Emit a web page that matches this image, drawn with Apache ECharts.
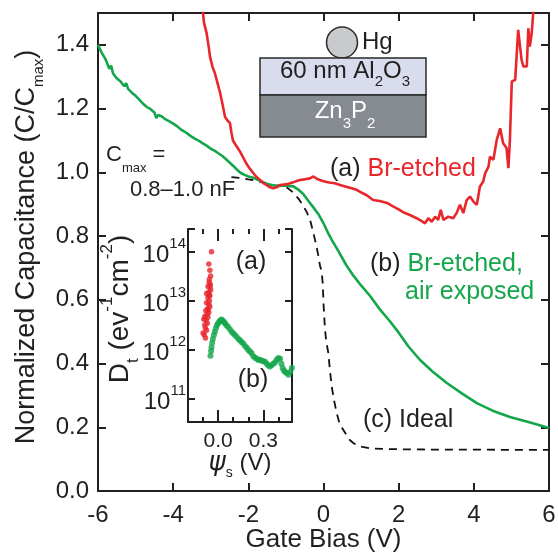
<!DOCTYPE html>
<html>
<head>
<meta charset="utf-8">
<title>C-V of Hg/Al2O3/Zn3P2</title>
<script src="https://cdn.jsdelivr.net/npm/echarts@6/dist/echarts.min.js"></script>
<style>
  html, body { margin: 0; padding: 0; background: #fff; }
  #chart { width: 558px; height: 554px; }
</style>
</head>
<body>
<div id="chart"></div>
<script>
// (a) Br-etched: [gate bias (V), C/Cmax]
const brEtched = [
  [-3.26, 1.56], [-3.18, 1.47], [-3.11, 1.437], [-3.05, 1.39], [-3.02, 1.363], [-2.95, 1.33],
  [-2.89, 1.311], [-2.82, 1.28], [-2.75, 1.249], [-2.68, 1.21], [-2.62, 1.174], [-2.55, 1.162],
  [-2.49, 1.155], [-2.45, 1.125], [-2.41, 1.10], [-2.33, 1.085], [-2.22, 1.065], [-2.13, 1.045],
  [-2.04, 1.025], [-1.95, 1.01], [-1.87, 0.998], [-1.78, 0.985], [-1.69, 0.976], [-1.6, 0.966],
  [-1.51, 0.96], [-1.42, 0.953], [-1.34, 0.95], [-1.25, 0.953], [-1.16, 0.96], [-1.05, 0.962],
  [-0.95, 0.963], [-0.89, 0.966], [-0.78, 0.97], [-0.63, 0.976], [-0.5, 0.978], [-0.36, 0.981],
  [-0.27, 0.987], [-0.15, 0.978], [0.0, 0.972], [0.15, 0.968], [0.3, 0.966], [0.44, 0.96],
  [0.6, 0.955], [0.75, 0.95], [0.88, 0.945], [1.0, 0.937], [1.15, 0.928], [1.32, 0.913],
  [1.5, 0.91], [1.69, 0.904], [1.85, 0.893], [2.0, 0.884], [2.15, 0.873], [2.3, 0.866],
  [2.48, 0.856], [2.6, 0.848], [2.7, 0.84], [2.79, 0.856], [2.88, 0.845], [2.97, 0.861],
  [3.05, 0.851], [3.12, 0.882], [3.19, 0.851], [3.32, 0.861], [3.45, 0.856], [3.54, 0.872],
  [3.63, 0.898], [3.72, 0.872], [3.81, 0.913], [3.9, 0.924], [3.99, 0.908], [4.08, 0.898],
  [4.16, 0.955], [4.25, 0.971], [4.3, 0.997], [4.39, 1.018], [4.43, 1.049], [4.52, 1.039],
  [4.61, 1.102], [4.7, 1.138], [4.78, 1.091], [4.87, 1.076], [4.92, 1.013], [4.96, 1.102],
  [5.01, 1.285], [5.1, 1.29], [5.14, 1.295], [5.18, 1.447], [5.27, 1.353], [5.32, 1.332],
  [5.41, 1.332], [5.45, 1.452], [5.49, 1.395], [5.54, 1.437], [5.58, 1.5], [5.62, 1.58]
];
// (b) Br-etched, air exposed
const airExposed = [
  [-6.0, 1.40], [-5.9, 1.375], [-5.8, 1.355], [-5.76, 1.343], [-5.7, 1.325], [-5.65, 1.335],
  [-5.6, 1.31], [-5.5, 1.295], [-5.4, 1.285], [-5.3, 1.27], [-5.25, 1.28], [-5.2, 1.262],
  [-5.1, 1.25], [-5.0, 1.24], [-4.9, 1.228], [-4.8, 1.215], [-4.7, 1.205], [-4.6, 1.198],
  [-4.5, 1.188], [-4.45, 1.17], [-4.4, 1.18], [-4.3, 1.175], [-4.2, 1.166], [-4.1, 1.16],
  [-4.0, 1.153], [-3.9, 1.145], [-3.8, 1.135], [-3.7, 1.128], [-3.6, 1.12], [-3.5, 1.111],
  [-3.4, 1.104], [-3.3, 1.098], [-3.2, 1.09], [-3.1, 1.083], [-3.0, 1.074], [-2.9, 1.068],
  [-2.8, 1.06], [-2.7, 1.052], [-2.6, 1.042], [-2.5, 1.031], [-2.4, 1.02], [-2.3, 1.008],
  [-2.2, 0.998], [-2.1, 0.992], [-2.0, 0.987], [-1.87, 0.983], [-1.7, 0.974], [-1.51, 0.964],
  [-1.3, 0.958], [-1.16, 0.959], [-1.0, 0.958], [-0.8, 0.956], [-0.65, 0.944], [-0.54, 0.932],
  [-0.4, 0.91], [-0.27, 0.89], [-0.12, 0.866], [0.0, 0.84], [0.1, 0.815], [0.22, 0.788],
  [0.4, 0.752], [0.6, 0.71], [0.8, 0.675], [1.0, 0.645], [1.24, 0.612], [1.5, 0.57],
  [1.75, 0.535], [1.95, 0.505], [2.25, 0.455], [2.57, 0.411], [2.9, 0.375], [3.28, 0.339],
  [3.7, 0.305], [4.08, 0.276], [4.5, 0.252], [4.96, 0.232], [5.5, 0.215], [6.0, 0.198]
];
// (c) Ideal
const ideal = [
  [-2.45, 0.985], [-2.2, 0.982], [-2.0, 0.978], [-1.78, 0.974], [-1.5, 0.963], [-1.2, 0.957],
  [-0.98, 0.953], [-0.8, 0.936], [-0.65, 0.915], [-0.54, 0.895], [-0.45, 0.876], [-0.36, 0.852],
  [-0.27, 0.81], [-0.2, 0.775], [-0.14, 0.74], [-0.09, 0.705], [-0.05, 0.69], [-0.02, 0.65],
  [0.0, 0.59], [0.04, 0.505], [0.08, 0.465], [0.13, 0.432], [0.17, 0.38], [0.22, 0.327],
  [0.28, 0.285], [0.35, 0.245], [0.42, 0.215], [0.5, 0.197], [0.6, 0.178], [0.7, 0.16],
  [0.8, 0.15], [0.97, 0.14], [1.24, 0.134], [1.6, 0.132], [2.0, 0.131], [3.0, 0.13],
  [4.0, 0.13], [5.0, 0.129], [6.0, 0.129]
];
// inset: [surface potential psi_s (V), Dt (eV^-1 cm^-2)]
const dtBrEtched = [
  [-0.044, 1.0e14], [-0.062, 5.6e13], [-0.055, 4.2e13], [-0.05, 3.2e13], [-0.058, 2.75e13],
  [-0.06, 2.4e13], [-0.052, 2.15e13], [-0.067, 1.95e13], [-0.05, 1.66e13], [-0.062, 1.51e13],
  [-0.077, 1.41e13], [-0.055, 1.26e13], [-0.068, 1.15e13], [-0.058, 1.0e13], [-0.077, 9.1e12],
  [-0.062, 8.5e12], [-0.055, 7.6e12], [-0.07, 6.9e12], [-0.082, 6.3e12], [-0.062, 5.8e12],
  [-0.075, 5.2e12], [-0.089, 4.8e12], [-0.068, 4.6e12], [-0.095, 4.2e12], [-0.08, 4.0e12],
  [-0.072, 3.5e12], [-0.089, 3.2e12], [-0.085, 2.8e12], [-0.1, 2.2e12], [-0.092, 2.0e12],
  [-0.084, 1.74e12], [-0.077, 2.5e12], [-0.066, 6.6e12], [-0.06, 1.32e13], [-0.053, 1.9e13]
];
const dtAirExposed = [
  [-0.051, 7.6e11], [-0.047, 9.5e11], [-0.044, 1.12e12], [-0.04, 1.38e12], [-0.035, 1.66e12],
  [-0.028, 2.0e12], [-0.022, 2.34e12], [-0.015, 2.75e12], [-0.008, 3.16e12], [0.0, 3.47e12],
  [0.008, 3.8e12], [0.015, 3.98e12], [0.022, 4.17e12], [0.03, 3.98e12], [0.038, 3.72e12],
  [0.045, 3.47e12], [0.055, 3.16e12], [0.065, 2.95e12], [0.078, 2.63e12], [0.09, 2.34e12],
  [0.1, 2.19e12], [0.111, 2.0e12], [0.122, 1.86e12], [0.135, 1.66e12], [0.145, 1.58e12],
  [0.155, 1.45e12], [0.167, 1.35e12], [0.178, 1.2e12], [0.19, 1.1e12], [0.2, 1.0e12],
  [0.211, 9.3e11], [0.222, 8.5e11], [0.233, 7.4e11], [0.245, 6.9e11], [0.256, 6.6e11],
  [0.267, 6.2e11], [0.278, 6.3e11], [0.29, 6.0e11], [0.3, 5.9e11], [0.311, 5.75e11],
  [0.322, 5.25e11], [0.333, 4.8e11], [0.344, 4.6e11], [0.355, 4.9e11], [0.367, 5.25e11],
  [0.378, 5.6e11], [0.389, 6.3e11], [0.4, 6.8e11], [0.411, 6.6e11], [0.42, 5.25e11],
  [0.428, 4.3e11], [0.436, 3.8e11], [0.445, 3.55e11], [0.455, 3.4e11], [0.467, 3.1e11],
  [0.478, 3.55e11], [0.489, 4.3e11]
];
const psiMinorTicks = [-0.1, 0, 0.1, 0.2, 0.3, 0.4];
const psiMajorTicks = [0, 0.3];

const FONT = 'Liberation Sans, Arial, Helvetica, sans-serif';
const INK = '#231f20';
const RED = '#e8262b';
const GREEN = '#14a64b';

const axisLine = { onZero: false, lineStyle: { color: INK, width: 2 } };
const tick = (len, extra) => Object.assign({ inside: true, length: len, lineStyle: { color: INK, width: 2 } }, extra || {});

function psiAxis(pos, len, vals, labels) {
  return {
    gridIndex: 1, type: 'value', min: -0.2, max: 0.49, position: pos, z: 6,
    axisLine: labels ? axisLine : { show: false },
    axisTick: tick(len, { customValues: vals }),
    axisLabel: labels ? {
      customValues: psiMajorTicks, formatter: v => v.toFixed(1),
      color: INK, fontSize: 21, fontFamily: FONT, margin: 9
    } : { show: false },
    splitLine: { show: false }
  };
}

const chart = echarts.init(document.getElementById('chart'));

chart.setOption({
  animation: false,
  backgroundColor: '#fff',
  grid: [
    { left: 98, top: 13, width: 451, height: 478, outerBoundsMode: 'none' },
    { left: 188, top: 229, width: 104, height: 193, outerBoundsMode: 'none',
      show: true, backgroundColor: '#fff', borderWidth: 0, z: 5 }
  ],
  xAxis: [
    {
      gridIndex: 0, type: 'value', min: -6, max: 6, interval: 2, position: 'bottom',
      axisLine: axisLine, axisTick: tick(8),
      axisLabel: { color: INK, fontSize: 24, fontFamily: FONT, margin: 12 },
      splitLine: { show: false },
      name: 'Gate Bias (V)', nameLocation: 'middle', nameGap: 36, nameMoveOverlap: false,
      nameTextStyle: { color: INK, fontSize: 26, fontFamily: FONT }
    },
    {
      gridIndex: 0, type: 'value', min: -6, max: 6, interval: 2, position: 'top',
      axisLine: axisLine, axisTick: tick(8), axisLabel: { show: false }, splitLine: { show: false }
    },
    Object.assign(psiAxis('bottom', 5, psiMinorTicks, true), {
      name: '{p|ψ}{s|s}{b| (V)}', nameLocation: 'middle', nameGap: 24, nameMoveOverlap: false,
      nameTextStyle: {
        rich: {
          p: { fontSize: 26, fontStyle: 'italic', fontFamily: 'DejaVu Sans, ' + FONT, color: INK, lineHeight: 26 },
          s: { fontSize: 14, fontFamily: FONT, color: INK, verticalAlign: 'bottom', lineHeight: 34 },
          b: { fontSize: 24, fontFamily: FONT, color: INK, lineHeight: 26 }
        }
      }
    }),
    psiAxis('bottom', 12, psiMajorTicks, false),
    psiAxis('top', 5, psiMinorTicks, false),
    psiAxis('top', 12, psiMajorTicks, false)
  ],
  yAxis: [
    {
      gridIndex: 0, type: 'value', min: 0, max: 1.5, interval: 0.2, position: 'left',
      axisLine: axisLine, axisTick: tick(8),
      axisLabel: {
        color: INK, fontSize: 24, fontFamily: FONT, margin: 9,
        formatter: v => (v > 1.45 ? '' : v.toFixed(1))
      },
      splitLine: { show: false },
      name: '{n|Normalized Capacitance (C/C}{s|max}{n|)}', nameLocation: 'middle', nameGap: 52,
      nameMoveOverlap: false,
      nameTextStyle: {
        padding: [0, 0, 0, 10],
        rich: {
          n: { fontSize: 27, fontFamily: FONT, color: INK, verticalAlign: 'top', lineHeight: 27 },
          s: { fontSize: 15, fontFamily: FONT, color: INK, verticalAlign: 'bottom', lineHeight: 33 }
        }
      }
    },
    {
      gridIndex: 0, type: 'value', min: 0, max: 1.5, interval: 0.2, position: 'right',
      axisLine: axisLine, axisTick: tick(8), axisLabel: { show: false }, splitLine: { show: false }
    },
    {
      gridIndex: 1, type: 'log', logBase: 10, min: 3.4e10, max: 2.9e14, position: 'left', z: 6,
      axisLine: axisLine, axisTick: tick(7),
      axisLabel: {
        margin: 2,
        formatter: v => {
          const e = Math.log10(v);
          return Math.abs(e - Math.round(e)) < 0.01 ? '{b|10}{p|' + Math.round(e) + '}' : '';
        },
        rich: {
          b: { fontSize: 24, fontFamily: FONT, color: INK, verticalAlign: 'bottom', lineHeight: 24 },
          p: { fontSize: 15, fontFamily: FONT, color: INK, verticalAlign: 'top', lineHeight: 31 }
        }
      },
      splitLine: { show: false },
      name: '{b|D}{s|t}{b| (ev}{p|-1}{b|cm}{p|-2}{b|)}', nameLocation: 'middle', nameGap: 46,
      nameMoveOverlap: false,
      nameTextStyle: {
        padding: [0, 0, 0, 33],
        rich: {
          b: { fontSize: 28, fontFamily: FONT, color: INK, lineHeight: 28 },
          s: { fontSize: 17, fontFamily: FONT, color: INK, verticalAlign: 'bottom', lineHeight: 43 },
          p: { fontSize: 17, fontFamily: FONT, color: INK, verticalAlign: 'top', lineHeight: 43 }
        }
      }
    },
    {
      gridIndex: 1, type: 'log', logBase: 10, min: 3.4e10, max: 2.9e14, position: 'right', z: 6,
      axisLine: axisLine, axisTick: tick(7), axisLabel: { show: false }, splitLine: { show: false }
    }
  ],
  series: [
    {
      name: '(c) Ideal', type: 'line', xAxisIndex: 0, yAxisIndex: 0, data: ideal,
      showSymbol: false, z: 2,
      lineStyle: { color: '#111', width: 1.8, type: [8, 6] }
    },
    {
      name: '(b) Br-etched, air exposed', type: 'line', xAxisIndex: 0, yAxisIndex: 0, data: airExposed,
      showSymbol: false, z: 3,
      lineStyle: { color: GREEN, width: 2.6 }
    },
    {
      name: '(a) Br-etched', type: 'line', xAxisIndex: 0, yAxisIndex: 0, data: brEtched,
      showSymbol: false, z: 4,
      lineStyle: { color: RED, width: 2.6 }
    },
    {
      name: 'Dt (a)', type: 'scatter', xAxisIndex: 2, yAxisIndex: 2, data: dtBrEtched,
      symbolSize: 5.5, z: 7, itemStyle: { color: RED }
    },
    {
      name: 'Dt (b)', type: 'scatter', xAxisIndex: 2, yAxisIndex: 2, data: dtAirExposed,
      symbolSize: 6, z: 7, itemStyle: { color: GREEN }
    }
  ],
  graphic: [
    // device schematic
    { type: 'circle', shape: { cx: 342, cy: 42.5, r: 15.5 }, z: 20,
      style: { fill: '#c8cacd', stroke: '#2a2a2a', lineWidth: 1.5 } },
    { type: 'rect', shape: { x: 260, y: 58, width: 166, height: 37 }, z: 21,
      style: { fill: '#d9dcec', stroke: '#2a2a2a', lineWidth: 1.5 } },
    { type: 'rect', shape: { x: 260, y: 95, width: 166, height: 42 }, z: 21,
      style: { fill: '#868a91', stroke: '#2a2a2a', lineWidth: 1.5 } },
    { type: 'text', x: 362, y: 42, z: 22,
      style: { text: 'Hg', fontSize: 24, fontFamily: FONT, fill: INK, verticalAlign: 'middle' } },
    { type: 'text', x: 345, y: 59.5, z: 22,
      style: {
        text: '{b|60 nm Al}{s|2}{b|O}{s|3}', align: 'center', verticalAlign: 'top',
        rich: {
          b: { fontSize: 24, fontFamily: FONT, fill: INK, verticalAlign: 'top', lineHeight: 24 },
          s: { fontSize: 15, fontFamily: FONT, fill: INK, verticalAlign: 'bottom', lineHeight: 30 }
        }
      } },
    { type: 'text', x: 345, y: 99.5, z: 22,
      style: {
        text: '{b|Zn}{s|3}{b|P}{s|2}', align: 'center', verticalAlign: 'top',
        rich: {
          b: { fontSize: 24, fontFamily: FONT, fill: '#fff', verticalAlign: 'top', lineHeight: 24 },
          s: { fontSize: 15, fontFamily: FONT, fill: '#fff', verticalAlign: 'bottom', lineHeight: 32 }
        }
      } },
    // annotations
    { type: 'text', x: 106, y: 144, z: 22,
      style: {
        text: '{b|C}{s|max}{b| =}', verticalAlign: 'top',
        rich: {
          b: { fontSize: 22, fontFamily: FONT, fill: INK, verticalAlign: 'top', lineHeight: 22 },
          s: { fontSize: 13, fontFamily: FONT, fill: INK, verticalAlign: 'bottom', lineHeight: 30.5 }
        }
      } },
    { type: 'text', x: 130, y: 190, z: 22,
      style: { text: '0.8–1.0 nF', fontSize: 22, fontFamily: FONT, fill: INK, verticalAlign: 'middle' } },
    { type: 'text', x: 330, y: 169, z: 22,
      style: {
        text: '{k|(a) }{r|Br-etched}', verticalAlign: 'middle',
        rich: {
          k: { fontSize: 25, fontFamily: FONT, fill: INK },
          r: { fontSize: 25, fontFamily: FONT, fill: RED }
        }
      } },
    { type: 'text', x: 370, y: 264, z: 22,
      style: {
        text: '{k|(b) }{g|Br-etched,}', verticalAlign: 'middle',
        rich: {
          k: { fontSize: 25, fontFamily: FONT, fill: INK },
          g: { fontSize: 25, fontFamily: FONT, fill: GREEN }
        }
      } },
    { type: 'text', x: 405, y: 292, z: 22,
      style: { text: 'air exposed', fontSize: 25, fontFamily: FONT, fill: GREEN, verticalAlign: 'middle' } },
    { type: 'text', x: 363, y: 420, z: 22,
      style: { text: '(c) Ideal', fontSize: 25, fontFamily: FONT, fill: INK, verticalAlign: 'middle' } },
    { type: 'text', x: 251, y: 262, z: 22,
      style: { text: '(a)', fontSize: 25, fontFamily: FONT, fill: INK, align: 'center', verticalAlign: 'middle' } },
    { type: 'text', x: 253, y: 380, z: 22,
      style: { text: '(b)', fontSize: 25, fontFamily: FONT, fill: INK, align: 'center', verticalAlign: 'middle' } }
  ]
});
</script>
</body>
</html>
